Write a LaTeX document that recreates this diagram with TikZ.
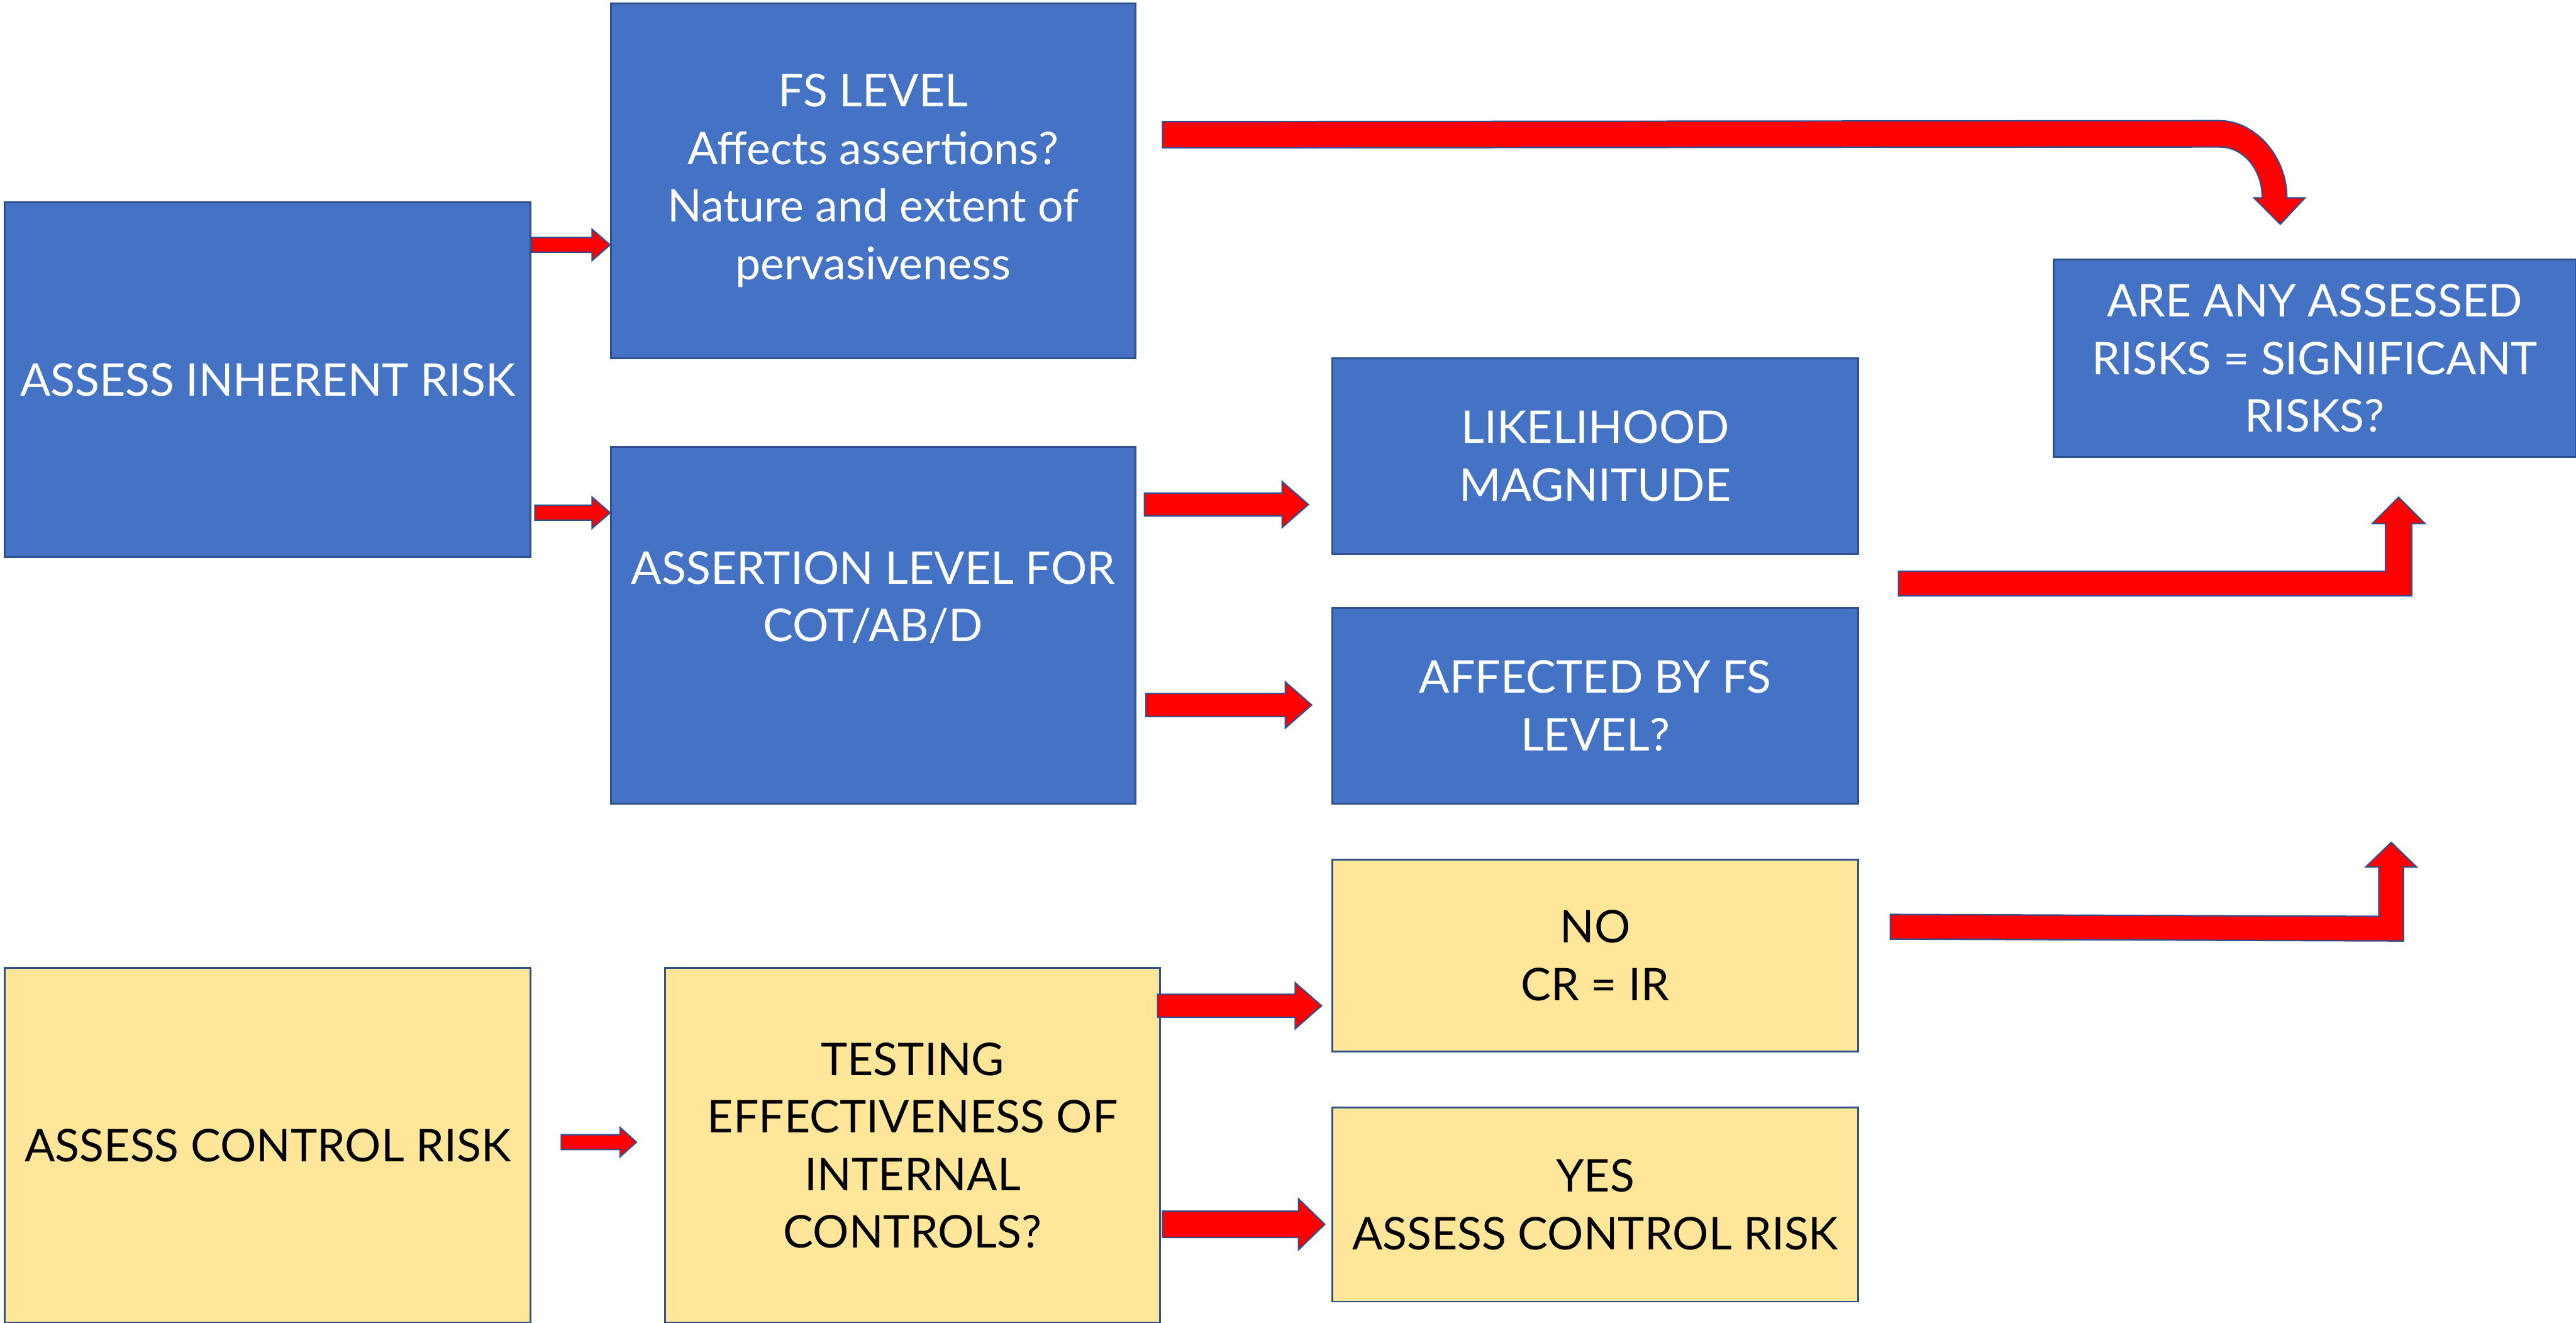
\documentclass[tikz,border=0pt]{standalone}
\usepackage{fontspec}
\setmainfont{Lato}
\usetikzlibrary{calc}
\definecolor{boxblue}{HTML}{4472C4}
\definecolor{edgeblue}{HTML}{2F528F}
\definecolor{boxgold}{HTML}{FFE699}
\definecolor{arrowred}{HTML}{FF0000}

\tikzset{
  box/.style={rectangle, draw=edgeblue, line width=0.8pt, inner sep=0pt, align=center,
              font=\fontsize{19.5}{24.9}\selectfont, minimum width=8cm},
  bluebox/.style={box, fill=boxblue, text=white},
  goldbox/.style={box, fill=boxgold, text=black},
  redarrow/.style={fill=arrowred, draw=edgeblue, line width=0.6pt, line join=miter},
}

% straight block arrow: tail, tip, half shaft, half head, head length
\newcommand\blockarrow[5]{%
  \draw[redarrow] ($(#1)+(0,-#3)$) -- ($(#2)+(-#5,-#3)$) -- ($(#2)+(-#5,-#4)$) -- (#2)
    -- ($(#2)+(-#5,#4)$) -- ($(#2)+(-#5,#3)$) -- ($(#1)+(0,#3)$) -- cycle;}

\begin{document}
\begin{tikzpicture}[x=0.025cm, y=-0.025cm]
\useasboundingbox (0,0) rectangle (1568,805);

% inherent risk branch
\node[bluebox, minimum height=5.4cm] (A) at (163,231) {ASSESS INHERENT RISK};
\node[bluebox, minimum width=7.975cm, minimum height=5.4cm] (B) at (531.5,110)
  {FS LEVEL\\Affects assertions?\\Nature and extent of\\pervasiveness};
\node[bluebox, minimum width=7.975cm, minimum height=5.425cm] (C) at (531.5,380.5)
  {ASSERTION LEVEL FOR\\COT/AB/D\\\mbox{}};
\node[bluebox, minimum height=2.975cm] (D) at (971,277.5) {LIKELIHOOD\\MAGNITUDE};
\node[bluebox, minimum height=2.975cm] (E) at (971,429.5) {AFFECTED BY FS\\LEVEL?};
\node[bluebox, minimum width=7.95cm, minimum height=3cm] (F) at (1409,218)
  {ARE ANY ASSESSED\\RISKS = SIGNIFICANT\\RISKS?};

% control risk branch
\node[goldbox, minimum height=5.4cm] (G) at (163,697) {ASSESS CONTROL RISK};
\node[goldbox, minimum width=7.525cm, minimum height=5.4cm] (H) at (555.5,697)
  {TESTING\\EFFECTIVENESS OF\\INTERNAL\\CONTROLS?};
\node[goldbox, minimum height=2.925cm] (I) at (971,581.5) {NO\\CR = IR};
\node[goldbox, minimum height=2.95cm] (J) at (971,733) {YES\\ASSESS CONTROL RISK};

% straight connectors
\coordinate (ab0) at ($(A.east)+(0,-82)$);   \coordinate (ab1) at ($(B.west)+(0,39)$);
\coordinate (ac0) at ($(A.east)+(2,81)$);    \coordinate (ac1) at ($(C.west)+(0,-68.5)$);
\coordinate (cd0) at ($(C.east)+(5,-73.5)$); \coordinate (cd1) at ($(D.west)+(-14,29.5)$);
\coordinate (ce0) at ($(C.east)+(6,48.5)$);  \coordinate (ce1) at ($(E.west)+(-12,-0.5)$);
\coordinate (gh0) at ($(G.east)+(18,-2)$);   \coordinate (gh1) at ($(H.west)+(-17,-2)$);
\coordinate (hi0) at ($(H.east)+(-2,-85)$);  \coordinate (hi1) at ($(I.west)+(-6,30.5)$);
\coordinate (hj0) at ($(H.east)+(1,48)$);    \coordinate (hj1) at ($(J.west)+(-4,12)$);

\blockarrow{ab0}{ab1}{4.5}{9.5}{11}
\blockarrow{ac0}{ac1}{4.5}{9.5}{11}
\blockarrow{cd0}{cd1}{7}{14}{16}
\blockarrow{ce0}{ce1}{7}{14}{16}
\blockarrow{gh0}{gh1}{4.5}{9}{10}
\blockarrow{hi0}{hi1}{7}{14}{16}
\blockarrow{hj0}{hj1}{8}{15.5}{16}

% curved connector from the FS level box down to the significance question
\coordinate (ct) at ($(B.east)+(16,-36)$);
\coordinate (ch) at ($(F.north)+(-21,-21)$);
\draw[redarrow] (ct) -- ($(ch)+(-37,-63)$) .. controls +(21,0) and +(0,-26) .. ($(ch)+(4,-16)$)
  -- ++(11,0) -- (ch) -- ++(-16,-16) -- ++(5,0)
  .. controls +(0,-17) and +(15,0) .. ($(ch)+(-37,-47)$) -- ($(ct)+(0,16)$) -- cycle;

% bent connectors rising towards the significance question
\coordinate (bt) at ($(D.south east)+(24,10)$);
\coordinate (bh) at ($(F.south)+(51,24)$);
\draw[redarrow] (bt) -- ($(bh)+(-8,45)$) -- ++(0,-29) -- ++(-8,0) -- (bh) -- ++(16,16)
  -- ++(-8,0) -- ++(0,44) -- ($(bt)+(0,15)$) -- cycle;

\coordinate (b2t) at ($(I.north east)+(19,34)$);
\coordinate (b2h) at ($(F.south)+(46.5,234)$);
\draw[redarrow] (b2t) -- ($(b2h)+(-7.5,45)$) -- ++(0,-30) -- ++(-8,0) -- (b2h) -- ++(15.5,15)
  -- ++(-8,0) -- ++(0,45) -- ($(b2t)+(0,15)$) -- cycle;
\end{tikzpicture}
\end{document}
